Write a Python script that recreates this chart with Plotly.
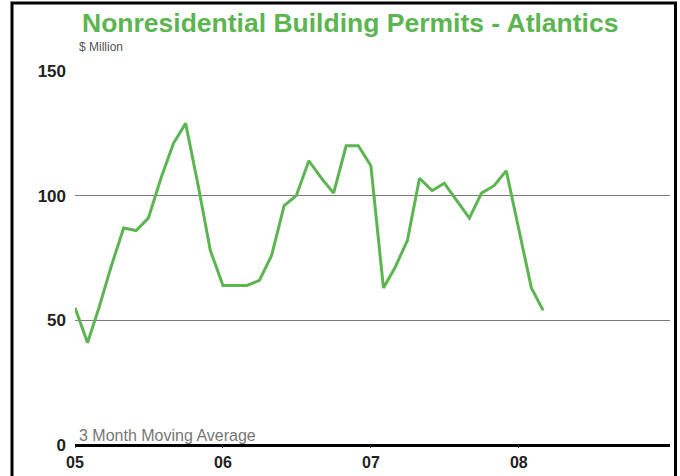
import pandas as pd
import plotly.graph_objects as go

months = pd.date_range("2005-01-01", "2008-03-01", freq="MS")
permits = [55, 41, 55, 72, 87, 86, 91, 107, 121, 129, 104, 78,
           64, 64, 64, 66, 76, 96, 100, 114, 107, 101, 120, 120,
           112, 63, 71, 82, 107, 102, 105, 98, 91, 101, 104, 110,
           86, 63, 54]
tick_dates = ["2005-01-01", "2006-01-01", "2007-01-01", "2008-01-01"]
tick_labels = ["05", "06", "07", "08"]

GREEN = "#5cb551"

# plot area in pixels: left 75, right 670, top 71, bottom 445
PW, PH, BOTTOM = 595, 374, 445


def px_x(p):
    return (p - 75) / PW


def px_y(p):
    return (BOTTOM - p) / PH


fig = go.Figure(go.Scatter(
    x=months,
    y=permits,
    mode="lines",
    line=dict(color=GREEN, width=3),
    hoverinfo="skip"
))

fig.update_layout(
    width=680,
    height=476,
    margin=dict(l=75, r=10, t=71, b=31),
    paper_bgcolor="white",
    plot_bgcolor="white",
    showlegend=False,
    font=dict(family="Liberation Sans, Arial, sans-serif", color="black"),
    xaxis=dict(
        range=["2005-01-01", "2009-01-08"],
        tickvals=tick_dates,
        ticktext=tick_labels,
        showgrid=False,
        zeroline=False,
        ticks="outside",
        ticklen=2,
        tickcolor="#444",
        tickfont=dict(size=16, weight="bold", color="#222"),
        ticklabelstandoff=1,
        showline=False,
        automargin=False,
    ),
    yaxis=dict(
        range=[0, 150],
        tickvals=[0, 50, 100, 150],
        showgrid=True,
        gridcolor="#7a7a7a",
        gridwidth=1,
        zeroline=True,
        zerolinecolor="black",
        zerolinewidth=3,
        ticks="",
        tickfont=dict(size=17, weight="bold", color="#222"),
        ticklabelstandoff=8,
        automargin=False,
    ),
    annotations=[
        dict(text="<b>Nonresidential Building Permits - Atlantics</b>",
             xref="paper", yref="paper", x=px_x(80), y=px_y(23),
             xanchor="left", yanchor="middle", showarrow=False,
             font=dict(size=26.5, color=GREEN)),
        dict(text="$ Million",
             xref="paper", yref="paper", x=px_x(77), y=px_y(47),
             xanchor="left", yanchor="middle", showarrow=False,
             font=dict(size=12, color="#555")),
        dict(text="3 Month Moving Average",
             xref="paper", yref="paper", x=px_x(77), y=px_y(435),
             xanchor="left", yanchor="middle", showarrow=False,
             font=dict(size=16, color="#777")),
    ],
    shapes=[
        dict(type="rect", xref="paper", yref="paper",
             x0=px_x(12), x1=px_x(675.5),
             y0=px_y(482), y1=px_y(3),
             line=dict(color="black", width=3)),
    ],
)

page_fix = (
    "document.documentElement.style.margin='0';"
    "document.documentElement.style.overflow='hidden';"
    "document.body.style.margin='0';"
    "document.body.style.overflow='hidden';"
)
fig.write_html("out.html", config={"displayModeBar": False}, post_script=page_fix)
